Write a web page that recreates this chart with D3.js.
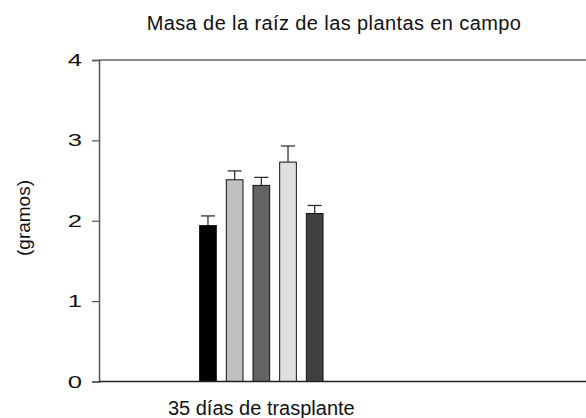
<!DOCTYPE html>
<html>
<head>
<meta charset="utf-8">
<script src="https://cdn.jsdelivr.net/npm/d3@7"></script>
<style>
  html, body { margin: 0; padding: 0; background: #fff; }
  svg { display: block; font-family: "Liberation Sans", Arial, sans-serif; }
</style>
</head>
<body>
<svg id="chart" width="586" height="418"></svg>
<script>
// Root mass per treatment, field plants, 35 days after transplant
const groups = ["35 días de trasplante"];
const groupPos = [1];
const treatments = ["T1", "T2", "T3", "T4", "T5"];
const rootMass = [1.94, 2.51, 2.44, 2.73, 2.09];
const stdErr = [0.12, 0.11, 0.10, 0.20, 0.10];
const fills = ["#000000", "#c0c0c0", "#636363", "#e0e0e0", "#404040"];
const yTicks = [0, 1, 2, 3, 4];

const title = "Masa de la raíz de las plantas en campo";
const yLabel = "(gramos)";

const svg = d3.select("#chart");
const plotLeft = 99, plotRight = 586, plotTop = 60, plotBottom = 381.5;

const x = d3.scaleLinear().domain([0, 3]).range([plotLeft, plotRight]);
const y = d3.scaleLinear().domain([0, 4]).range([plotBottom, plotTop]);

const cx = x(groupPos[0]);
const inner = d3.scaleBand()
  .domain(treatments)
  .range([cx - 66.7, cx + 66.7])
  .paddingInner(0.375)
  .paddingOuter(0.1875);

// frame: top line
svg.append("line")
  .attr("x1", plotLeft).attr("x2", plotRight).attr("y1", plotTop).attr("y2", plotTop)
  .attr("stroke", "#666").attr("stroke-width", 1.5);

// bars
const data = treatments.map((t, i) => ({ t, v: rootMass[i], e: stdErr[i], c: fills[i] }));

const bars = svg.append("g");
bars.selectAll("rect").data(data).join("rect")
  .attr("x", d => inner(d.t))
  .attr("width", inner.bandwidth())
  .attr("y", d => y(d.v))
  .attr("height", d => y(0) - y(d.v))
  .attr("fill", d => d.c)
  .attr("stroke", "#111")
  .attr("stroke-width", 1);

// upward error bars
const err = svg.append("g").attr("stroke", "#222").attr("stroke-width", 1.2);
err.selectAll("line.v").data(data).join("line").attr("class", "v")
  .attr("x1", d => inner(d.t) + inner.bandwidth() / 2)
  .attr("x2", d => inner(d.t) + inner.bandwidth() / 2)
  .attr("y1", d => y(d.v))
  .attr("y2", d => y(d.v + d.e));
err.selectAll("line.c").data(data).join("line").attr("class", "c")
  .attr("x1", d => inner(d.t) + inner.bandwidth() / 2 - 7)
  .attr("x2", d => inner(d.t) + inner.bandwidth() / 2 + 7)
  .attr("y1", d => y(d.v + d.e))
  .attr("y2", d => y(d.v + d.e));

// y axis
const yAxis = svg.append("g")
  .attr("transform", `translate(${plotLeft},0)`)
  .call(d3.axisLeft(y).tickValues(yTicks).tickFormat(d3.format("d")).tickSize(7).tickPadding(0));
yAxis.select(".domain").attr("stroke", "#555").attr("stroke-width", 1.5);
yAxis.selectAll(".tick line").attr("stroke", "#555").attr("stroke-width", 1.2);
yAxis.selectAll(".tick text")
  .attr("font-size", 16)
  .attr("fill", "#111")
  .attr("font-family", "Liberation Sans, Arial, sans-serif")
  .attr("x", -17 / 1.6)
  .attr("dy", "0.35em")
  .attr("transform", "scale(1.6,1)");

// x baseline
svg.append("line")
  .attr("x1", plotLeft).attr("x2", plotRight).attr("y1", y(0)).attr("y2", y(0))
  .attr("stroke", "#222").attr("stroke-width", 1.5);

// group label under the bars
svg.append("g").selectAll("text").data(groups).join("text")
  .attr("x", (d, i) => x(groupPos[i]))
  .attr("y", 415)
  .attr("text-anchor", "middle")
  .attr("font-size", 20)
  .attr("fill", "#111")
  .text(d => d);

// title
svg.append("text")
  .attr("x", 334).attr("y", 30)
  .attr("text-anchor", "middle")
  .attr("font-size", 20)
  .attr("letter-spacing", 0.4)
  .attr("fill", "#111")
  .text(title);

// y axis label
svg.append("text")
  .attr("transform", "translate(30,218) rotate(-90)")
  .attr("text-anchor", "middle")
  .attr("font-size", 19)
  .attr("fill", "#111")
  .text(yLabel);
</script>
</body>
</html>
